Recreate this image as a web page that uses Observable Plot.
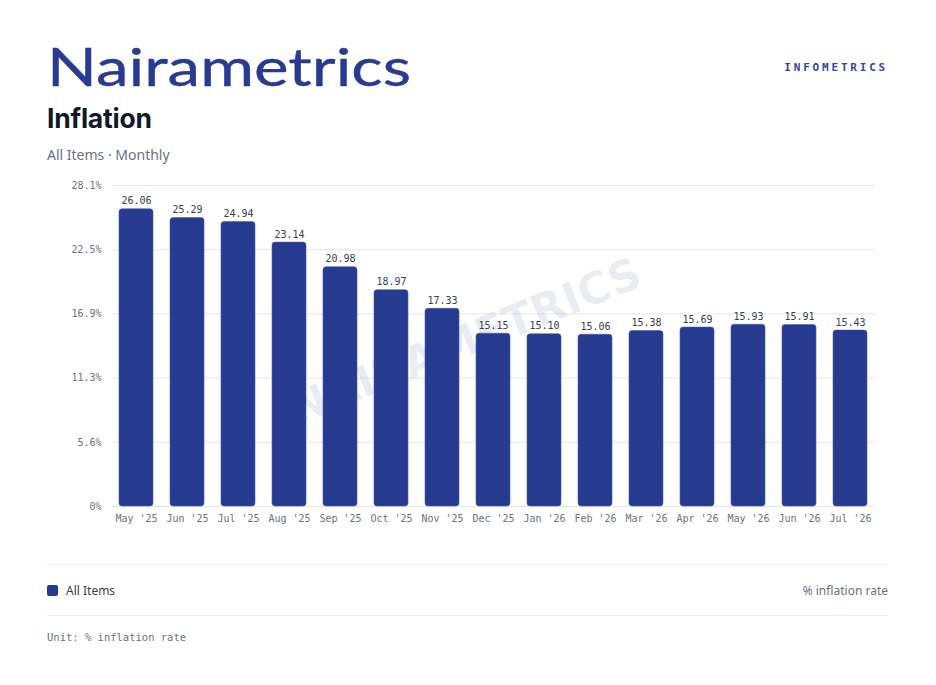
<!DOCTYPE html>
<html>
<head>
<meta charset="utf-8">
<script src="https://cdn.jsdelivr.net/npm/d3@7"></script>
<script src="https://cdn.jsdelivr.net/npm/@observablehq/plot@0.6"></script>
<style>
  html, body { margin: 0; padding: 0; background: #fff; }
  body { width: 936px; height: 685px; position: relative; overflow: hidden; font-family: "Noto Sans", "Open Sans", sans-serif; }
  .abs { position: absolute; }
  #logo { left: 44px; top: 28px; }
  #brand { right: 48px; top: 61px; font-family: "DejaVu Sans Mono", monospace; font-weight: bold; font-size: 11px; letter-spacing: 2.8px; color: #3446a0; }
  #title { left: 47px; top: 102px; font-family: "Inter", "Noto Sans", sans-serif; font-weight: 700; font-size: 26.5px; color: #111827; letter-spacing: -0.2px; }
  #subtitle { left: 47px; top: 145px; font-size: 14px; color: #6b7280; }
  #chart { left: 0; top: 175px; }
  .hr { left: 47px; width: 841px; height: 1px; background: #ececec; }
  #legend { left: 47px; top: 582px; font-size: 12px; color: #374151; display: flex; align-items: center; }
  #legend .sw { width: 11px; height: 11px; border-radius: 2px; background: #263b90; margin-right: 8px; }
  #unitr { right: 48px; top: 582px; font-size: 12px; color: #6b7280; }
  #unit { left: 47px; top: 631px; font-family: "DejaVu Sans Mono", monospace; font-size: 10.5px; color: #6b7280; }
</style>
</head>
<body>
<div id="logo" class="abs"></div>
<div id="brand" class="abs">INFOMETRICS</div>
<div id="title" class="abs">Inflation</div>
<div id="subtitle" class="abs">All Items · Monthly</div>
<div id="chart" class="abs"></div>
<div class="abs hr" style="top:564px"></div>
<div id="legend" class="abs"><span class="sw"></span><span>All Items</span></div>
<div id="unitr" class="abs">% inflation rate</div>
<div class="abs hr" style="top:615px"></div>
<div id="unit" class="abs">Unit: % inflation rate</div>
<script>
const months = ["May '25","Jun '25","Jul '25","Aug '25","Sep '25","Oct '25","Nov '25","Dec '25","Jan '26","Feb '26","Mar '26","Apr '26","May '26","Jun '26","Jul '26"];
const values = [26.06,25.29,24.94,23.14,20.98,18.97,17.33,15.15,15.10,15.06,15.38,15.69,15.93,15.91,15.43];
const yTicks = [0, 5.629, 11.258, 16.887, 22.516, 28.145];
const yTickLabels = ["0%","5.6%","11.3%","16.9%","22.5%","28.1%"];
const yMax = 28.145;
const barColor = "#263b90";

const data = months.map((m, i) => ({month: m, value: values[i]}));

// Logo
const logoSvg = d3.create("svg").attr("width", 380).attr("height", 72);
logoSvg.append("text")
  .attr("x", 3).attr("y", 58)
  .attr("textLength", 364).attr("lengthAdjust", "spacingAndGlyphs")
  .attr("font-family", "Lato, 'Noto Sans', sans-serif")
  .attr("font-size", 53).attr("font-weight", 400)
  .attr("stroke", "#2a3a92").attr("stroke-width", 0.4)
  .attr("fill", "#2a3a92")
  .text("Nairametrics");
document.getElementById("logo").append(logoSvg.node());

const chart = Plot.plot({
  width: 936,
  height: 361,
  marginLeft: 112,
  marginRight: 61,
  marginTop: 10,
  marginBottom: 30,
  style: {fontFamily: "'DejaVu Sans Mono', monospace", fontSize: "10px", color: "#6b7280", background: "transparent"},
  x: {domain: months, label: null, paddingInner: 0.33, paddingOuter: 0.14, tickSize: 0, tickPadding: 8},
  y: {domain: [0, yMax], ticks: yTicks, tickFormat: (d, i) => yTickLabels[i], label: null, tickSize: 0, tickPadding: 11},
  marks: [
    Plot.gridY(yTicks, {stroke: "#e5e7eb", strokeOpacity: 1}),
    Plot.text(["NAIRAMETRICS"], {frameAnchor: "middle", dx: -28, dy: -4, rotate: -22, fontSize: 44, fontWeight: 700, fill: "#263b90", fillOpacity: 0.09, fontFamily: "'DejaVu Sans', sans-serif"}),
    Plot.barY(data, {x: "month", y: "value", fill: barColor, rx: 3, stroke: "#4a5cae", strokeWidth: 0.6}),
    Plot.text(data, {x: "month", y: "value", text: d => d.value.toFixed(2), dy: -8, fill: "#374151", fontSize: 10})
  ]
});
document.getElementById("chart").append(chart);
</script>
</body>
</html>
